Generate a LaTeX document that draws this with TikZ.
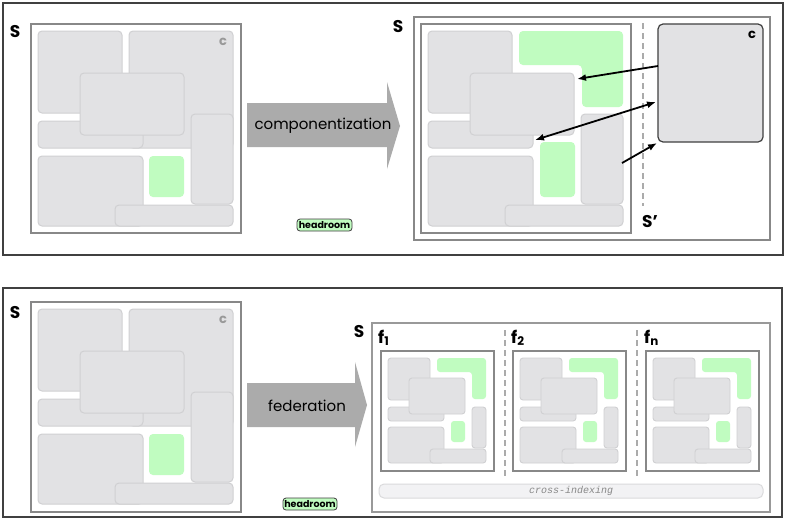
\documentclass[tikz,border=0pt]{standalone}
\usepackage{fontspec}
\setmainfont{Poppins}
\newfontfamily\monof{Liberation Mono}
\usetikzlibrary{arrows.meta}
\definecolor{blkfill}{HTML}{E2E2E4}
\definecolor{blkline}{HTML}{D0D0D2}
\definecolor{grnfill}{HTML}{C0FCC0}
\definecolor{boxgray}{HTML}{888888}
\definecolor{panelc}{HTML}{404040}
\definecolor{arrgray}{HTML}{ABABAB}
\definecolor{cgray}{HTML}{999999}
\definecolor{xfill}{HTML}{F2F2F4}
\definecolor{xline}{HTML}{DADADC}
\tikzset{
  blk/.style={fill=blkfill, draw=blkline, line width=1pt, rounded corners=4pt},
  mblk/.style={fill=blkfill, draw=blkline, line width=0.9pt, rounded corners=3pt},
  grn/.style={fill=grnfill, rounded corners=4pt},
  mgrn/.style={fill=grnfill, rounded corners=3pt},
  sbox/.style={draw=boxgray, line width=2.2pt},
  panel/.style={draw=panelc, line width=1.8pt},
  lbl/.style={font=\fontsize{17}{17}\selectfont\bfseries, inner sep=0pt},
  bigarrow/.style={fill=arrgray},
  arrtext/.style={font=\fontsize{15}{15}\selectfont, inner sep=0pt},
  hroom/.style={fill=grnfill, draw=panelc, line width=0.8pt, rounded corners=3pt},
  hroomtext/.style={font=\fontsize{9.5}{9.5}\selectfont\bfseries, inner sep=0pt},
  darr/.style={line width=1.8pt, -{Latex[length=9pt,width=7pt]}},
  sep/.style={draw=arrgray, line width=1.2pt, dash pattern=on 6pt off 4pt},
}
\newcommand{\mybiglayout}[1]{%
  \draw[blk] (7,7) rectangle (91,89);
  \ifnum#1=0 \draw[blk] (98,7) rectangle (202,124);\else
  \fill[grn] (98,7) -- (202,7) -- (202,83) -- (161,83) -- (161,41) -- (98,41) -- cycle;\fi
  \draw[blk] (7,97) rectangle (112,124);
  \draw[blk] (49,49) rectangle (153,111);
  \draw[blk] (160,90) rectangle (202,180);
  \draw[blk] (7,132) rectangle (112,202);
  \draw[blk] (84,181) rectangle (202,202);
  \ifnum#1=0 \fill[grn] (118,132) rectangle (153,173);\else
  \fill[grn] (119,118) rectangle (154,173);\fi
}
\newcommand{\myminilayout}{%
  \draw[mblk] (7,7) rectangle (49,49);
  \fill[mgrn] (56,7) -- (105,7) -- (105,48) -- (91,48) -- (91,21) -- (56,21) -- cycle;
  \draw[mblk] (7,56) rectangle (63,70);
  \draw[mblk] (28,27) rectangle (84,63);
  \draw[mblk] (91,56) rectangle (105,97);
  \fill[mgrn] (70,70) rectangle (84,91);
  \draw[mblk] (7,76) rectangle (63,112);
  \draw[mblk] (49,98) rectangle (105,112);
  \draw[sbox] (0,0) rectangle (113,120);
}
\begin{document}
\begin{tikzpicture}[x=1pt,y=-1pt]
\useasboundingbox (0,0) rectangle (786,528);
\fill[white] (0,0) rectangle (786,528);
% ===== top panel =====
\draw[panel] (3,3) rectangle (783,255);
\node[lbl] (s1) at (15,32) {S};
\begin{scope}[shift={(31,24)}]
  \mybiglayout{0}
  \draw[sbox] (0,0) rectangle (210,209);
  \node[font=\fontsize{13}{13}\selectfont\bfseries, text=cgray, inner sep=0pt] (c1) at (192,18) {c};
\end{scope}
\fill[bigarrow] (247,103) -- (387,103) -- (387,82) -- (400,126) -- (387,169) -- (387,147) -- (247,147) -- cycle;
\node[arrtext] (comp) at (323,126) {componentization};
\node[hroom, minimum width=55pt, minimum height=12pt, inner sep=0pt] (h1) at (324.5,225) {};
\node[hroomtext] (h1t) at (h1.center) {headroom};
% top right
\node[lbl] (s2) at (398,27) {S};
\draw[sbox] (414,17) rectangle (770,240);
\begin{scope}[shift={(421,24)}]
  \mybiglayout{1}
  \draw[sbox] (0,0) rectangle (210,209);
\end{scope}
\draw[sep] (643,23) -- (643,206);
\node[lbl] (sp) at (650,222) {S’};
\node[fill=blkfill, draw=panelc, line width=1.2pt, rounded corners=5pt, minimum width=105pt, minimum height=118pt, inner sep=0pt] (cblk) at (710.5,83) {};
\node[font=\fontsize{13}{13}\selectfont\bfseries, inner sep=0pt] (c2) at (752,35) {c};
\coordinate (a1s) at (658,66);
\coordinate (a1e) at (577,79);
\coordinate (a2s) at (535,140);
\coordinate (a2e) at (656,102);
\coordinate (a3s) at (622,163);
\coordinate (a3e) at (657,143);
\draw[darr] (a1s) -- (a1e);
\draw[darr, {Latex[length=9pt,width=7pt]}-{Latex[length=9pt,width=7pt]}] (a2s) -- (a2e);
\draw[darr] (a3s) -- (a3e);
% ===== bottom panel =====
\draw[panel] (3,288) rectangle (782,517);
\node[lbl] (s3) at (15,312) {S};
\begin{scope}[shift={(31,302)}]
  \mybiglayout{0}
  \draw[sbox] (0,0) rectangle (210,210);
  \node[font=\fontsize{13}{13}\selectfont\bfseries, text=cgray, inner sep=0pt] (c3) at (192,18) {c};
\end{scope}
\fill[bigarrow] (247,383) -- (355,383) -- (355,362) -- (367,405) -- (355,447) -- (355,427) -- (247,427) -- cycle;
\node[arrtext] (fed) at (307,406) {federation};
\node[hroom, minimum width=54pt, minimum height=12pt, inner sep=0pt] (h2) at (310,504) {};
\node[hroomtext] (h2t) at (h2.center) {headroom};
% bottom right
\node[lbl] (s4) at (359,331) {S};
\draw[draw=cgray, line width=2pt] (372,323) rectangle (770,512);
\node[lbl, anchor=base west] (f1) at (378,343) {f\textsubscript{1}};
\node[lbl, anchor=base west] (f2) at (511,343) {f\textsubscript{2}};
\node[lbl, anchor=base west] (fn) at (644,343) {f\textsubscript{n}};
\begin{scope}[shift={(381,351)}] \myminilayout \end{scope}
\begin{scope}[shift={(513,351)}] \myminilayout \end{scope}
\begin{scope}[shift={(646,351)}] \myminilayout \end{scope}
\draw[sep] (505,330) -- (505,477);
\draw[sep] (637,330) -- (637,477);
\node[fill=xfill, draw=xline, line width=1pt, rounded corners=5pt, minimum width=384pt, minimum height=14pt, inner sep=0pt] (xi) at (571,491) {};
\node[font=\monof\itshape\fontsize{10}{10}\selectfont, text=boxgray, inner sep=0pt] (xit) at (xi.center) {cross-indexing};
\end{tikzpicture}
\end{document}
